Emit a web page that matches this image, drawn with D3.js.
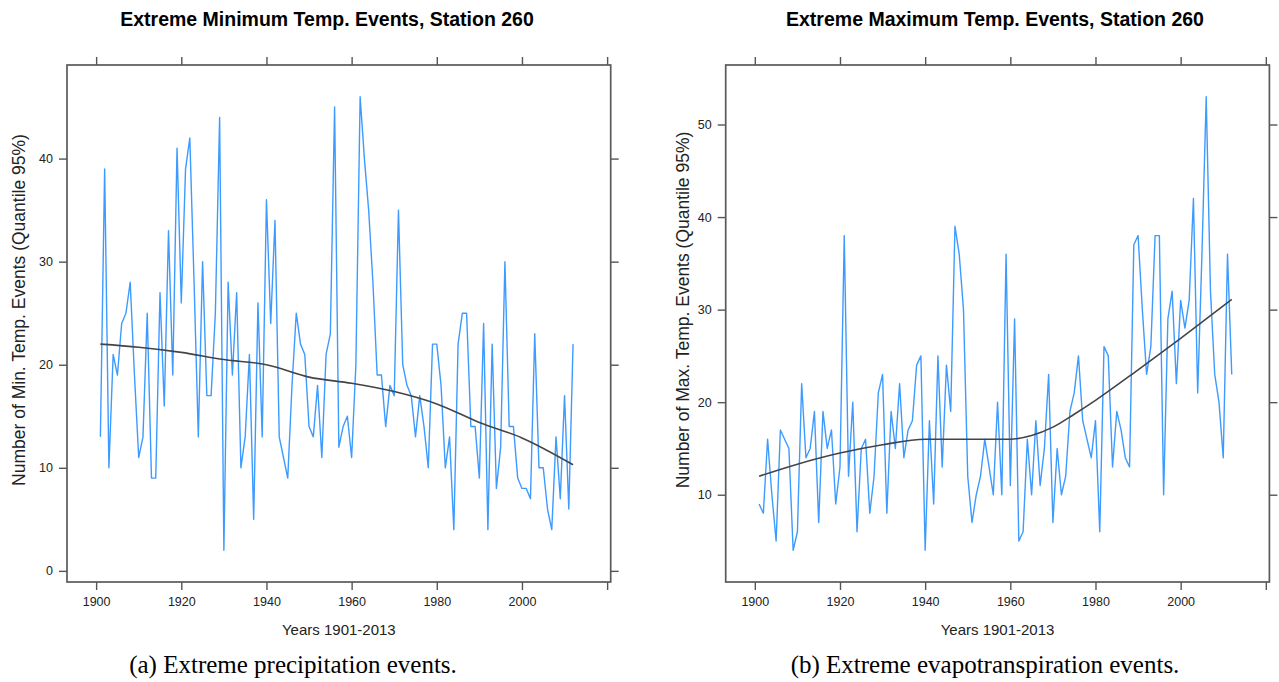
<!DOCTYPE html>
<html>
<head>
<meta charset="utf-8">
<script src="https://cdn.jsdelivr.net/npm/d3@7"></script>
<style>
  body { margin: 0; background: #fff; }
  svg { display: block; }
  .tick text { font-family: "Liberation Sans", Arial, sans-serif; font-size: 12.5px; fill: #222; }
  .tick line { stroke: #555; stroke-width: 1.4; }
</style>
</head>
<body>
<svg id="chart" width="1279" height="682"></svg>
<script>
// years 1901-2012 (the 2013 record is empty, but it still sets the axis range)
const years = d3.range(1901, 2013);
const yearRange = [1901, 2013];

// Extreme minimum temperature events per year
const minEvents = [
  13, 39, 10, 21, 19, 24, 25, 28, 19, 11,
  13, 25, 9, 9, 27, 16, 33, 19, 41, 26,
  39, 42, 28, 13, 30, 17, 17, 25, 44, 2,
  28, 19, 27, 10, 13, 21, 5, 26, 13, 36,
  24, 34, 13, 11, 9, 18, 25, 22, 21, 14,
  13, 18, 11, 21, 23, 45, 12, 14, 15, 11,
  20, 46, 40, 35, 28, 19, 19, 14, 18, 17,
  35, 20, 18, 17, 13, 17, 14, 10, 22, 22,
  18, 10, 13, 4, 22, 25, 25, 14, 14, 9,
  24, 4, 22, 8, 12, 30, 14, 14, 9, 8,
  8, 7, 23, 10, 10, 6, 4, 13, 7, 17,
  6, 22
];

// Extreme maximum temperature events per year
const maxEvents = [
  9, 8, 16, 10, 5, 17, 16, 15, 4, 6,
  22, 14, 15, 19, 7, 19, 15, 17, 9, 13,
  38, 12, 20, 6, 15, 16, 8, 12, 21, 23,
  8, 19, 15, 22, 14, 17, 18, 24, 25, 4,
  18, 9, 25, 13, 24, 19, 39, 36, 30, 12,
  7, 10, 12, 16, 13, 10, 20, 10, 36, 11,
  29, 5, 6, 16, 10, 18, 11, 15, 23, 7,
  15, 10, 12, 19, 21, 25, 18, 16, 14, 18,
  6, 26, 25, 13, 19, 17, 14, 13, 37, 38,
  30, 23, 26, 38, 38, 10, 29, 32, 22, 31,
  28, 31, 42, 21, 36, 53, 32, 23, 20, 14,
  36, 23
];

// loess trend
const minTrendYears = [1901, 1910, 1920, 1930, 1940, 1950, 1960, 1970, 1980, 1990, 2000, 2012];
const minTrend = [22.0, 21.7, 21.2, 20.5, 20.0, 18.8, 18.2, 17.4, 16.2, 14.4, 12.9, 10.3];
const maxTrendYears = [1901, 1910, 1920, 1930, 1940, 1950, 1960, 1965, 1970, 1975, 1980, 1990, 2000, 2012];
const maxTrend = [12.0, 13.3, 14.5, 15.4, 16.0, 16.0, 16.0, 16.4, 17.3, 18.7, 20.2, 23.5, 26.9, 31.1];

const xTicks = [1900, 1920, 1940, 1960, 1980, 2000, 2020];
const xTickLabels = ["1900", "1920", "1940", "1960", "1980", "2000", ""];
const minYTicks = [0, 10, 20, 30, 40];
const maxYTicks = [10, 20, 30, 40, 50];

const svg = d3.select('#chart');
const sans = '"Liberation Sans", Arial, sans-serif';
const serif = '"Liberation Serif", "Times New Roman", serif';

// lattice pads numeric ranges by 7%
function padded(ext) {
    const d = (ext[1] - ext[0]) * 0.07;
    return [ext[0] - d, ext[1] + d];
}

function drawPanel(opt) {
    const top = 65, height = 517, width = 543.7;
    const g = svg.append('g').attr('transform', `translate(${opt.left},${top})`);

    const x = d3.scaleLinear().domain(padded(yearRange)).range([0, width]);
    const y = d3.scaleLinear().domain(padded(d3.extent(opt.values))).range([height, 0]);

    const labelFmt = (d, i) => xTickLabels[i];

    // axes on all four sides, ticks pointing out
    g.append('g')
        .attr('transform', `translate(0,${height})`)
        .call(d3.axisBottom(x).tickValues(xTicks).tickFormat(labelFmt).tickSize(8).tickPadding(7));
    g.append('g')
        .call(d3.axisTop(x).tickValues(xTicks).tickFormat('').tickSize(8));
    g.append('g')
        .call(d3.axisLeft(y).tickValues(opt.yTicks).tickSize(8).tickPadding(6));
    g.append('g')
        .attr('transform', `translate(${width},0)`)
        .call(d3.axisRight(y).tickValues(opt.yTicks).tickFormat('').tickSize(8));
    g.selectAll('.domain').remove();

    g.append('rect')
        .attr('width', width)
        .attr('height', height)
        .attr('fill', 'none')
        .attr('stroke', '#5a5a5a')
        .attr('stroke-width', 1.7);

    const line = d3.line()
        .x((d, i) => x(years[i]))
        .y(d => y(d));

    g.append('path')
        .datum(opt.values)
        .attr('fill', 'none')
        .attr('stroke', '#3d9bff')
        .attr('stroke-width', 1.4)
        .attr('stroke-linejoin', 'round')
        .attr('d', line);

    const trendLine = d3.line()
        .x((d, i) => x(opt.trendYears[i]))
        .y(d => y(d))
        .curve(d3.curveMonotoneX);

    g.append('path')
        .datum(opt.trend)
        .attr('fill', 'none')
        .attr('stroke', '#444')
        .attr('stroke-width', 1.6)
        .attr('d', trendLine);

    // titles and labels
    svg.append('text')
        .attr('x', opt.titleX)
        .attr('y', 26)
        .attr('text-anchor', 'middle')
        .style('font-family', sans)
        .style('font-weight', 'bold')
        .style('font-size', '19.5px')
        .text(opt.title);

    svg.append('text')
        .attr('x', opt.left + width / 2)
        .attr('y', 635)
        .attr('text-anchor', 'middle')
        .style('font-family', sans)
        .style('font-size', '15px')
        .style('fill', '#222')
        .text('Years 1901-2013');

    svg.append('text')
        .attr('transform', `translate(${opt.yLabelX},310) rotate(-90)`)
        .attr('text-anchor', 'middle')
        .style('font-family', sans)
        .style('font-size', '17.5px')
        .style('fill', '#222')
        .text(opt.yLabel);

    svg.append('text')
        .attr('x', opt.captionX)
        .attr('y', 673)
        .attr('text-anchor', 'middle')
        .style('font-family', serif)
        .style('font-size', '25px')
        .text(opt.caption);
}

drawPanel({
    left: 67,
    values: minEvents,
    trendYears: minTrendYears,
    trend: minTrend,
    yTicks: minYTicks,
    title: 'Extreme Minimum Temp. Events, Station 260',
    titleX: 327,
    yLabel: 'Number of Min. Temp. Events (Quantile 95%)',
    yLabelX: 25,
    caption: '(a) Extreme precipitation events.',
    captionX: 293
});

drawPanel({
    left: 725.7,
    values: maxEvents,
    trendYears: maxTrendYears,
    trend: maxTrend,
    yTicks: maxYTicks,
    title: 'Extreme Maximum Temp. Events, Station 260',
    titleX: 995,
    yLabel: 'Number of Max. Temp. Events (Quantile 95%)',
    yLabelX: 689,
    caption: '(b) Extreme evapotranspiration events.',
    captionX: 985
});
</script>
</body>
</html>
